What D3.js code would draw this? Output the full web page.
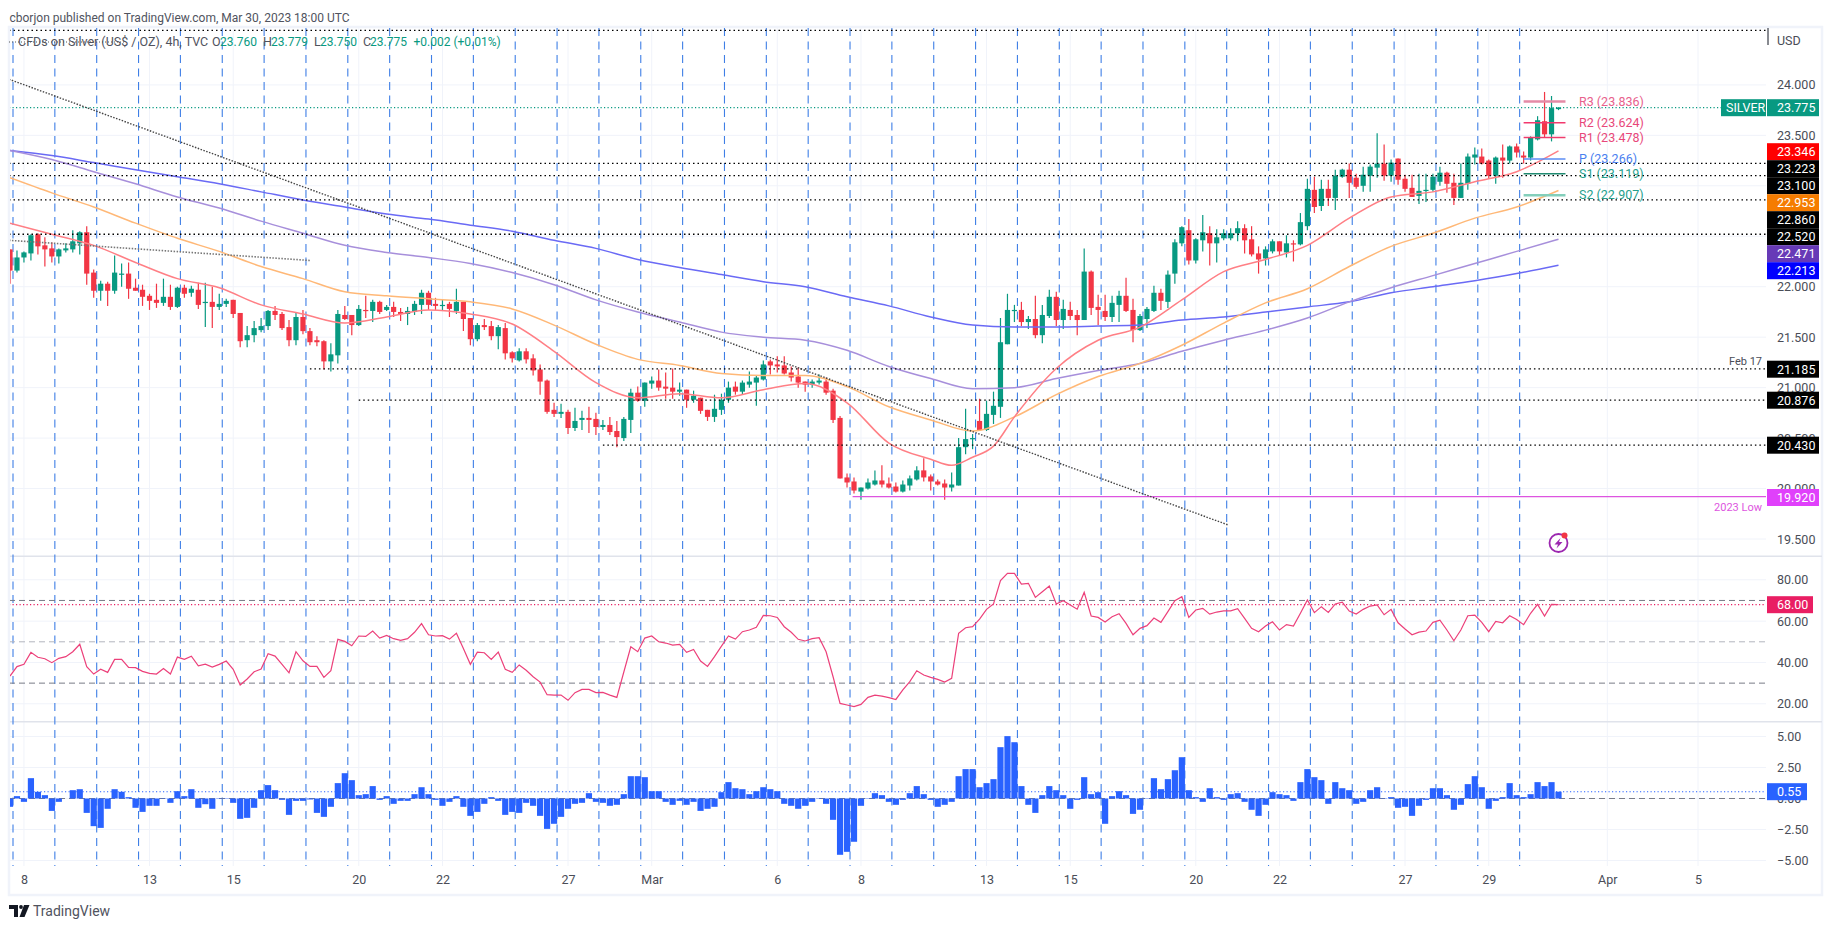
<!DOCTYPE html>
<html><head><meta charset="utf-8">
<script src="https://cdn.jsdelivr.net/npm/d3@7"></script>
<style>
html,body{margin:0;padding:0;background:#fff}
svg{display:block}
text{font-family:Roboto,"Liberation Sans",sans-serif;font-size:12.5px}
</style></head><body>
<svg id="c" width="1833" height="930"></svg>
<script>
const opens=[22.37,22.16,22.29,22.33,22.52,22.41,22.38,22.30,22.36,22.37,
22.43,22.54,22.14,21.96,22.03,21.96,22.12,22.13,21.99,21.97,
21.91,21.87,21.84,21.90,21.80,21.99,21.94,21.97,21.84,21.85,
21.80,21.83,21.87,21.74,21.47,21.52,21.57,21.61,21.76,21.73,
21.60,21.47,21.70,21.56,21.47,21.46,21.26,21.32,21.72,21.72,
21.62,21.77,21.76,21.85,21.77,21.80,
21.75,21.73,21.75,21.82,
21.94,21.83,21.81,21.83,21.76,21.85,21.69,21.48,21.62,21.61,
21.51,21.59,21.35,21.27,21.36,21.29,21.18,21.07,20.78,20.74,
20.76,20.60,20.68,20.70,20.69,20.61,20.63,20.57,20.50,20.68,
20.95,20.87,21.04,21.07,21.01,21.00,20.96,20.98,20.88,20.90,
20.78,20.71,20.78,20.88,21.01,20.96,21.03,21.05,21.08,21.26,
21.23,21.22,21.15,21.11,21.06,21.03,21.05,21.06,20.97,20.70,
20.11,20.07,19.97,20.00,20.04,20.08,20.05,20.02,19.97,20.03,
20.09,20.18,20.12,20.07,20.05,20.01,20.03,20.41,20.49,20.67,
20.58,20.73,20.81,21.43,21.76,21.77,21.65,21.68,21.52,21.71,
21.90,21.67,21.77,21.72,21.67,22.15,21.80,21.76,21.70,21.82,
21.91,21.77,21.57,21.68,21.76,21.94,21.85,22.13,22.43,22.56,
22.26,22.46,22.53,22.43,22.48,22.48,22.53,22.58,22.47,22.33,
22.28,22.35,22.45,22.34,22.43,22.42,22.60,22.96,22.80,22.97,
22.88,23.09,23.16,23.08,23.00,23.10,23.18,23.22,23.10,23.27,
23.07,22.98,22.90,22.95,22.96,23.04,23.13,23.03,22.88,23.02,
23.28,23.29,23.25,23.10,23.28,23.25,23.39,23.30,23.28,23.46,
23.64,23.51,23.76];
const highs=[22.37,22.36,22.35,22.52,22.53,22.49,22.44,22.38,22.43,22.56,
22.55,22.60,22.17,22.06,22.05,22.31,22.23,22.24,22.08,22.02,
21.93,22.03,22.08,22.02,22.00,22.02,22.01,22.04,22.04,22.00,
21.93,21.88,21.87,21.74,21.61,21.66,21.69,21.77,21.81,21.75,
21.67,21.75,21.77,21.59,21.51,21.47,21.44,21.77,21.81,21.72,
21.82,21.91,21.87,21.86,21.82,21.85,
21.79,21.80,21.86,21.97,
21.96,21.89,21.87,21.85,21.98,21.85,21.69,21.64,21.68,21.66,
21.62,21.64,21.36,21.39,21.39,21.33,21.23,21.08,20.85,20.84,
20.78,20.80,20.77,20.81,20.75,20.68,20.71,20.67,20.71,20.99,
21.01,21.05,21.11,21.18,21.15,21.19,21.05,20.98,20.97,20.90,
20.78,20.93,20.94,21.06,21.06,21.07,21.16,21.12,21.27,21.28,
21.31,21.31,21.21,21.20,21.06,21.08,21.13,21.10,20.99,20.72,
20.15,20.11,20.01,20.10,20.18,20.23,20.11,20.06,20.08,20.13,
20.22,20.30,20.14,20.09,20.09,20.16,20.50,20.79,20.54,20.89,
20.87,20.96,21.69,21.93,21.82,21.85,21.71,21.91,21.82,21.97,
21.95,21.87,21.85,21.77,22.38,22.16,21.92,21.92,21.91,21.96,
22.09,21.88,21.73,21.80,22.01,21.98,22.16,22.47,22.60,22.67,
22.48,22.71,22.60,22.57,22.57,22.58,22.65,22.62,22.60,22.40,
22.40,22.47,22.45,22.51,22.46,22.73,23.07,23.09,23.06,23.06,
23.16,23.17,23.22,23.12,23.19,23.21,23.52,23.41,23.26,23.27,
23.11,23.11,23.12,23.12,23.12,23.19,23.14,23.12,23.22,23.32,
23.38,23.37,23.26,23.29,23.41,23.40,23.42,23.34,23.49,23.69,
23.93,23.89,23.779];
const lows=[22.03,22.14,22.24,22.26,22.32,22.20,22.24,22.23,22.34,22.34,
22.32,22.02,21.89,21.86,21.81,21.93,22.00,21.88,21.96,21.81,
21.77,21.79,21.81,21.77,21.79,21.89,21.90,21.78,21.60,21.59,
21.77,21.80,21.69,21.40,21.40,21.45,21.55,21.57,21.67,21.57,
21.41,21.42,21.53,21.42,21.41,21.18,21.16,21.24,21.67,21.52,
21.61,21.69,21.65,21.73,21.76,21.70,
21.66,21.62,21.72,21.73,
21.77,21.77,21.76,21.70,21.73,21.56,21.42,21.46,21.57,21.47,
21.38,21.28,21.25,21.26,21.24,21.12,20.93,20.74,20.71,20.70,
20.54,20.57,20.58,20.55,20.53,20.58,20.53,20.41,20.47,20.55,
20.86,20.81,20.99,20.97,20.89,20.89,20.92,20.80,20.85,20.74,
20.67,20.66,20.73,20.85,20.93,20.93,21.00,20.82,21.07,21.13,
21.15,21.13,21.06,21.00,20.96,21.00,21.03,20.93,20.65,20.10,
20.01,19.95,19.89,19.99,20.03,20.01,20.00,19.96,19.96,19.98,
20.08,20.07,19.98,20.03,19.89,19.97,20.03,20.34,20.39,20.57,
20.57,20.64,20.70,21.43,21.65,21.61,21.58,21.49,21.44,21.69,
21.61,21.58,21.67,21.52,21.67,21.72,21.62,21.66,21.65,21.65,
21.75,21.45,21.56,21.59,21.75,21.77,21.79,22.03,22.40,22.22,
22.23,22.35,22.21,22.24,22.46,22.46,22.45,22.33,22.30,22.13,
22.21,22.33,22.31,22.29,22.25,22.41,22.56,22.73,22.75,22.80,
22.76,23.08,22.88,22.97,22.94,22.94,23.08,23.05,23.04,23.01,
22.94,22.89,22.82,22.84,22.94,23.00,22.93,22.81,22.88,22.96,
23.21,23.21,23.07,23.02,23.08,23.22,23.28,23.22,23.25,23.45,
23.48,23.44,23.750];
const closes=[22.16,22.29,22.34,22.51,22.40,22.37,22.30,22.37,22.38,22.45,
22.54,22.13,21.96,22.03,21.96,22.14,22.13,21.98,21.96,21.90,
21.86,21.84,21.90,21.80,21.99,21.93,21.98,21.82,21.85,21.80,
21.83,21.86,21.73,21.46,21.52,21.59,21.61,21.76,21.72,21.59,
21.47,21.70,21.56,21.45,21.45,21.26,21.33,21.73,21.68,21.62,
21.78,21.76,21.85,21.75,21.80,21.75,
21.73,21.76,21.83,21.94,
21.82,21.81,21.82,21.78,21.85,21.68,21.48,21.62,21.60,21.51,
21.60,21.34,21.29,21.36,21.28,21.17,21.06,20.76,20.74,20.76,
20.60,20.67,20.70,20.68,20.61,20.63,20.56,20.51,20.69,20.95,
20.87,21.05,21.07,21.00,20.99,20.96,20.98,20.88,20.92,20.77,
20.71,20.79,20.88,21.00,20.96,21.05,21.06,21.10,21.23,21.22,
21.21,21.14,21.10,21.05,21.03,21.06,21.07,20.95,20.68,20.10,
20.06,19.98,20.01,20.06,20.08,20.04,20.01,19.97,20.04,20.10,
20.18,20.11,20.07,20.04,20.01,20.04,20.41,20.49,20.50,20.58,
20.74,20.82,21.45,21.77,21.77,21.65,21.68,21.52,21.72,21.90,
21.67,21.78,21.71,21.67,22.15,21.79,21.77,21.70,21.84,21.91,
21.76,21.57,21.71,21.78,21.94,21.86,22.12,22.44,22.59,22.26,
22.47,22.54,22.43,22.49,22.53,22.53,22.58,22.46,22.32,22.27,
22.37,22.45,22.35,22.43,22.42,22.64,22.97,22.79,22.97,22.88,
23.10,23.16,23.03,22.99,23.11,23.19,23.22,23.10,23.23,23.06,
22.97,22.89,22.95,22.96,23.09,23.13,23.02,22.88,23.03,23.29,
23.31,23.22,23.10,23.28,23.25,23.39,23.33,23.28,23.48,23.65,
23.51,23.77,23.775];

const maBars=[0,6,12,18,24,30,36,42,48,54,60,66,72,78,84,90,96,102,108,114,120,126,132,138,144,150,156,162,168,174,180,186,192,198,204,210,216,222];
const ema200=[23.35,23.30,23.23,23.16,23.09,23.02,22.94,22.86,22.79,22.72,22.67,22.61,22.55,22.46,22.38,22.27,22.19,22.12,22.05,22.00,21.90,21.81,21.70,21.62,21.60,21.60,21.61,21.62,21.67,21.70,21.75,21.80,21.85,21.94,22.00,22.06,22.13,22.213];
const ema100=[23.35,23.26,23.14,23.02,22.89,22.78,22.65,22.53,22.41,22.34,22.29,22.23,22.14,22.02,21.87,21.75,21.65,21.55,21.50,21.47,21.37,21.21,21.09,20.99,21.00,21.09,21.17,21.24,21.36,21.47,21.57,21.69,21.85,21.99,22.11,22.23,22.35,22.471];
const ema50=[23.08,22.93,22.79,22.63,22.48,22.35,22.20,22.08,21.95,21.91,21.88,21.85,21.78,21.62,21.43,21.28,21.22,21.14,21.12,21.12,21.01,20.81,20.68,20.57,20.71,20.93,21.11,21.24,21.42,21.64,21.84,21.98,22.20,22.40,22.53,22.68,22.79,22.953];
const ema20Bars=[0,6,12,18,24,30,36,42,48,54,60,66,72,78,84,90,96,102,108,114,120,126,132,135,138,141,144,150,156,162,168,174,180,186,192,198,204,210,216,222];
const ema20=[22.63,22.52,22.41,22.24,22.08,21.99,21.82,21.73,21.64,21.70,21.77,21.73,21.63,21.36,21.05,20.90,20.94,20.90,20.98,21.04,20.85,20.45,20.29,20.23,20.31,20.42,20.71,21.19,21.47,21.60,21.87,22.15,22.27,22.41,22.68,22.89,22.94,23.04,23.14,23.346];

const rsi=[33.4,38.0,39.1,44.9,42.5,41.8,39.9,42.0,42.8,45.2,48.8,38.0,34.4,36.7,35.2,41.5,41.5,37.6,37.5,35.7,34.7,34.4,37.1,34.4,42.6,41.5,43.0,38.4,39.2,37.8,39.1,40.7,36.7,29.1,32.0,35.5,36.8,44.2,43.1,39.1,35.0,45.2,40.8,38.1,38.1,32.8,36.0,51.2,50.2,48.1,52.8,52.6,55.2,51.8,53.1,51.5,50.7,51.5,54.6,58.8,53.4,52.8,53.0,51.3,54.1,46.7,39.1,45.0,44.7,41.5,45.0,36.7,35.2,38.8,36.2,33.1,30.5,24.4,24.2,24.2,21.7,25.4,27.0,27.0,25.4,25.5,24.2,23.1,
35.4,47.6,45.2,51.8,52.8,50.0,49.4,48.4,48.8,44.9,46.3,40.7,38.1,42.8,47.9,52.8,51.3,54.9,55.7,57.0,62.8,62.6,61.8,57.3,54.6,51.2,50.4,51.5,52.0,45.2,33.1,20.2,19.4,18.6,19.7,23.1,24.2,23.7,23.0,22.1,26.7,30.7,36.0,33.9,32.8,31.8,30.5,32.3,54.1,56.8,57.3,61.0,65.7,68.3,79.6,83.1,83.1,77.9,78.3,71.5,74.2,77.0,68.3,69.9,67.8,65.8,73.9,62.5,61.8,59.6,62.1,63.6,58.9,53.4,56.5,57.8,61.5,59.4,64.6,69.9,71.8,61.8,65.4,66.2,63.4,64.4,65.0,65.0,66.0,61.3,56.5,54.9,57.6,59.7,55.7,58.3,57.6,63.8,70.2,64.1,67.0,64.2,68.3,69.2,64.9,63.4,65.7,67.3,67.9,63.1,65.7,59.2,56.2,53.4,54.7,55.2,59.4,60.5,55.7,50.5,55.7,62.6,62.9,59.4,54.9,59.9,59.2,62.6,60.8,58.3,63.8,68.1,62.5,68.1,68.0];
const hist=[-0.67,0.19,-0.27,1.64,0.54,0.27,-1.0,-0.27,0,0.67,0.75,-1.16,-2.23,-2.37,-0.83,0.75,0.54,0.11,-0.75,-1.08,-0.59,-0.59,0.03,-0.35,0.59,0.19,0.75,-0.75,-0.46,-0.83,-0.03,-0.03,-0.35,-1.64,-1.56,-0.75,0.67,1.08,0.67,-0.11,-1.32,-0.19,-0.19,-0.08,-1.16,-1.48,-0.67,1.24,2.04,1.48,0.27,0.35,1.0,-0.11,0.19,-0.43,-0.19,-0.19,0.35,0.91,0.35,-0.11,-0.59,-0.27,0.19,-0.67,-1.4,-1.08,-0.43,0.11,-0.19,-1.32,-1.08,-1.16,-0.35,-0.59,-1.4,-2.45,-2.04,-1.48,-0.83,-0.43,-0.35,0.43,-0.27,-0.35,-0.59,-0.51,
0.35,1.8,1.8,1.72,0.59,0.59,-0.27,-0.51,-0.19,-0.51,-0.27,-1.0,-0.83,-0.67,0.51,1.32,0.83,0.75,0.35,0.59,0.91,0.75,0.59,-0.43,-0.59,-0.83,-0.59,-0.27,-0.03,-0.43,-1.72,-4.54,-4.3,-3.49,-0.59,-0.03,0.43,0.27,-0.27,-0.51,-0.11,0.43,1.0,0.35,-0.11,-0.67,-0.51,-0.27,1.8,2.37,2.37,0.91,1.24,1.56,4.14,5.03,4.54,1.0,-0.51,-1.16,0.27,1.0,0.67,0.27,-0.83,-0.11,1.72,0.35,0.51,-2.04,0.19,0.59,0.27,-1.24,-0.91,-0.03,1.64,0.75,1.56,2.28,3.33,0.67,0.11,-0.27,0.83,0.11,-0.11,0.35,0.43,-0.27,-0.91,-1.4,-0.51,0.51,0.35,0.27,-0.19,1.32,2.37,1.72,1.48,-0.43,1.32,0.83,0.67,-0.43,-0.27,0.67,0.91,-0.03,0.11,-0.75,-0.67,-1.4,-0.59,-0.11,0.83,0.83,0.27,-0.91,-0.51,1.16,1.8,0.91,-0.83,-0.19,0.11,1.24,0.27,0.11,0.35,1.32,1.0,1.32,0.55];

const priceTicks=[24,23.5,23,22.5,22,21.5,21,20.5,20,19.5];
const priceTickLabels=[24,23.5,22,21.5,21,20.5,20,19.5];
const rsiTicks=[80,60,40,20];
const histTicks=[5,2.5,0,-2.5,-5];
const timeBars=[2,20,32,50,62,80,92,110,122,140,152,170,182,200,212,229,242];
const timeLabels=["8","13","15","20","22","27","Mar","6","8","13","15","20","22","27","29","Apr","5"];

// black dotted levels: price, first bar
const levelPrices=[24.54,23.223,23.10,22.86,22.52,21.185,20.876,20.43];
const levelStarts=[-1,-1,-1,-1,-1,43,50,85];
const pivotNames=["R3","R2","R1","P","S1","S2"];
const pivotValues=[23.836,23.624,23.478,23.266,23.119,22.907];
const pivotColors=["#e58aa6","#f2386e","#ee3c6c","#5b8cf5","#1f8a70","#84cfbb"];
const pivotWidths=[2.5,1.5,1.5,1.5,1.5,2.5];
const pivotText=["#e8618c","#e8477a","#e8477a","#4b7ff0","#26a08c","#26a08c"];
const trendA=[[-0.15,24.056],[174.6,19.64]];
const trendB=[[-0.15,22.46],[43,22.26]];

const boxLabels=["23.346","23.223","23.100","22.953","22.860","22.520","22.471","22.213"];
const boxColors=["#ff0000","#000000","#000000","#f57c00","#000000","#000000","#673ab7","#0000ff"];

const L=9,R=1766,T=28,B=866;
const svg=d3.select("#c");
const x=d3.scaleLinear().domain([0,222]).range([10,1558.5]);
const y=d3.scaleLinear().domain([24,19.5]).range([84.9,539]);
const yR=d3.scaleLinear().domain([80,20]).range([579.8,703.8]);
const yH=d3.scaleLinear().domain([5,-5]).range([736.5,860.5]);
const bars=d3.range(closes.length);

svg.append("defs").append("clipPath").attr("id","pane").append("rect").attr("x",L+1).attr("y",T).attr("width",R-L-1).attr("height",B-T);

// frame and panes
svg.append("rect").attr("x",L).attr("y",27).attr("width",1822-L).attr("height",895-27).attr("fill","#fff").attr("stroke","#f0f3fa").attr("stroke-width",2.5);
const root=svg.append("g").attr("clip-path","url(#pane)");
const grid=root.append("g").attr("stroke","#f0f3fa").attr("stroke-width",1);
grid.selectAll(".v").data(timeBars).join("line").attr("class","v").attr("x1",d=>x(d)).attr("x2",d=>x(d)).attr("y1",T).attr("y2",B);
grid.selectAll(".p").data(priceTicks).join("line").attr("class","p").attr("x1",L).attr("x2",R).attr("y1",d=>y(d)).attr("y2",d=>y(d));
grid.selectAll(".r").data(rsiTicks).join("line").attr("class","r").attr("x1",L).attr("x2",R).attr("y1",d=>yR(d)).attr("y2",d=>yR(d));
grid.selectAll(".h").data(histTicks).join("line").attr("class","h").attr("x1",L).attr("x2",R).attr("y1",d=>yH(d)).attr("y2",d=>yH(d));
[556.3,721.7].forEach(v=>root.append("line").attr("x1",L).attr("x2",R).attr("y1",v).attr("y2",v).attr("stroke","#e0e3eb").attr("stroke-width",1.5));
svg.append("g").selectAll("line").data([556.3,721.7]).join("line").attr("x1",R).attr("x2",1822).attr("y1",d=>d).attr("y2",d=>d).attr("stroke","#e0e3eb").attr("stroke-width",1.5);

// session separators
root.append("g").selectAll("line").data(d3.range(0,37)).join("line")
 .attr("x1",d=>x(0.43+6*d)).attr("x2",d=>x(0.43+6*d)).attr("y1",T).attr("y2",B)
 .attr("stroke","#3f7fe6").attr("stroke-width",1.1).attr("stroke-dasharray","8 5.5");

// candles
const col=i=>closes[i]>=opens[i]?"#089981":"#f23645";
const cg=root.append("g");
cg.selectAll(".w").data(bars).join("line").attr("class","w").attr("x1",i=>x(i)).attr("x2",i=>x(i)).attr("y1",i=>y(highs[i])).attr("y2",i=>y(lows[i])).attr("stroke",col).attr("stroke-width",1.2);
cg.selectAll(".b").data(bars).join("rect").attr("class","b").attr("x",i=>x(i)-2.6).attr("width",5.2)
 .attr("y",i=>y(Math.max(opens[i],closes[i]))).attr("height",i=>Math.max(1.2,Math.abs(y(opens[i])-y(closes[i])))).attr("fill",col);

// moving averages
const mkLine=(xs,ys)=>d3.line().x((d,i)=>x(xs[i])).y(d=>y(d)).curve(d3.curveMonotoneX)(ys);
root.append("path").attr("d",mkLine(maBars,ema200)).attr("fill","none").attr("stroke","#6a6af5").attr("stroke-width",1.5);
root.append("path").attr("d",mkLine(maBars,ema100)).attr("fill","none").attr("stroke","#a78fdb").attr("stroke-width",1.5);
root.append("path").attr("d",mkLine(maBars,ema50)).attr("fill","none").attr("stroke","#ffb877").attr("stroke-width",1.5);
root.append("path").attr("d",mkLine(ema20Bars,ema20)).attr("fill","none").attr("stroke","#ff7f85").attr("stroke-width",1.5);

// levels
root.append("g").selectAll("line").data(levelPrices).join("line")
 .attr("x1",(d,i)=>levelStarts[i]<0?L:x(levelStarts[i])).attr("x2",R).attr("y1",d=>y(d)).attr("y2",d=>y(d))
 .attr("stroke","#000").attr("stroke-width",1.3).attr("stroke-dasharray","1.5 3");
root.append("line").attr("x1",x(120.8)).attr("x2",R).attr("y1",y(19.92)).attr("y2",y(19.92)).attr("stroke","#dd55e0").attr("stroke-width",1.3);
root.append("line").attr("x1",L).attr("x2",R).attr("y1",y(23.775)).attr("y2",y(23.775)).attr("stroke","#089981").attr("stroke-width",1.1).attr("stroke-dasharray","1.2 2.3");

// trend lines
[[trendA,"#444",1.4],[trendB,"#777",1.6]].forEach(([t,c,w])=>root.append("line").attr("x1",x(t[0][0])).attr("y1",y(t[0][1])).attr("x2",x(t[1][0])).attr("y2",y(t[1][1])).attr("stroke",c).attr("stroke-width",w).attr("stroke-dasharray","1.5 1.5"));

// pivots
const pg=svg.append("g");
pg.selectAll("line").data(pivotValues).join("line").attr("x1",x(217)).attr("x2",x(223)).attr("y1",d=>y(d)).attr("y2",d=>y(d)).attr("stroke",(d,i)=>pivotColors[i]).attr("stroke-width",(d,i)=>pivotWidths[i]);
pg.selectAll("text").data(pivotValues).join("text").attr("x",1579).attr("y",d=>y(d)+4.3).attr("fill",(d,i)=>pivotText[i]).text((d,i)=>`${pivotNames[i]} (${d3.format(".3f")(d)})`);

// RSI
root.append("g").selectAll("line").data([70,50,30]).join("line").attr("x1",L).attr("x2",R).attr("y1",d=>yR(d)).attr("y2",d=>yR(d)).attr("stroke",d=>d==50?"#b2b5be":"#787b86").attr("stroke-width",1).attr("stroke-dasharray","6 4");
root.append("line").attr("x1",L).attr("x2",R).attr("y1",yR(68)).attr("y2",yR(68)).attr("stroke","#e91e63").attr("stroke-width",1.1).attr("stroke-dasharray","1.2 2.3");
root.append("path").attr("d",d3.line().x((d,i)=>x(i)).y(d=>yR(d))(rsi)).attr("fill","none").attr("stroke","#ec407a").attr("stroke-width",1.2);

// Histogram
root.append("line").attr("x1",L).attr("x2",R).attr("y1",yH(0)).attr("y2",yH(0)).attr("stroke","#787b86").attr("stroke-width",1).attr("stroke-dasharray","6 4");
root.append("g").selectAll("rect").data(hist).join("rect").attr("x",(d,i)=>x(i)-3.1).attr("width",6.2)
 .attr("y",d=>yH(Math.max(d,0))).attr("height",d=>Math.abs(yH(d)-yH(0))).attr("fill","#2962ff");
root.append("line").attr("x1",L).attr("x2",R).attr("y1",yH(0.55)).attr("y2",yH(0.55)).attr("stroke","#2962ff").attr("stroke-width",1.1).attr("stroke-dasharray","1.2 2.3");

// Axes
const txt="#4a4d57";
function style(g){g.select(".domain").remove();g.selectAll("text").attr("fill",txt).style("font-size","12.5px");}
svg.append("g").attr("transform","translate(1777,0)").call(d3.axisRight(y).tickValues(priceTickLabels).tickSize(0).tickPadding(0).tickFormat(d3.format(".3f"))).call(style);
svg.append("g").attr("transform","translate(1777,0)").call(d3.axisRight(yR).tickValues(rsiTicks).tickSize(0).tickPadding(0).tickFormat(d3.format(".2f"))).call(style);
svg.append("g").attr("transform","translate(1777,0)").call(d3.axisRight(yH).tickValues(histTicks).tickSize(0).tickPadding(0).tickFormat(d3.format(".2f"))).call(style);
svg.append("g").attr("transform",`translate(0,${B})`).call(d3.axisBottom(x).tickValues(timeBars).tickSize(0).tickPadding(9).tickFormat((d,i)=>timeLabels[i])).call(style);

// Boxed labels on the scale
function box(x0,x1,cy,fill,label,tx){
 svg.append("rect").attr("x",x0).attr("y",cy-8.5).attr("width",x1-x0).attr("height",17).attr("fill",fill);
 svg.append("text").attr("x",tx||x0+10).attr("y",cy+4.4).attr("fill","#fff").text(label);
}
box(1767,1819,107.7,"#089981","23.775");
box(1721,1766,107.7,"#089981","SILVER",1726);
boxLabels.forEach((t,i)=>box(1767,1819,151.7+17*i,boxColors[i],t));
box(1767,1819,369.2,"#000","21.185");
box(1767,1819,400.2,"#000","20.876");
box(1767,1819,445.2,"#000","20.430");
box(1767,1819,497.5,"#e040fb","19.920");
box(1767,1813,604.7,"#e91e63","68.00");
box(1767,1807,791.7,"#2962ff","0.55");
svg.append("text").attr("x",1762).attr("y",365).attr("text-anchor","end").attr("fill",txt).style("font-size","11px").text("Feb 17");
svg.append("text").attr("x",1762).attr("y",511).attr("text-anchor","end").attr("fill","#dd55e0").style("font-size","11px").text("2023 Low");

// USD
svg.append("line").attr("x1",1768).attr("x2",1768).attr("y1",28).attr("y2",45).attr("stroke","#131722");
svg.append("text").attr("x",1777).attr("y",45).attr("fill",txt).text("USD");

// Header
svg.append("text").attr("x",9.5).attr("y",22).attr("fill","#50535e").style("font-size","12px").text("cborjon published on TradingView.com, Mar 30, 2023 18:00 UTC");
const lg=svg.append("g");
lg.append("text").attr("x",18).attr("y",46).attr("fill","#50535e").text("CFDs on Silver (US$ / OZ), 4h, TVC");
[["O",212,"23.760",220],["H",263,"23.779",271],["L",314,"23.750",320],["C",363,"23.775",370]].forEach(([a,ax,b,bx])=>{
 lg.append("text").attr("x",ax).attr("y",46).attr("fill","#50535e").text(a);
 lg.append("text").attr("x",bx).attr("y",46).attr("fill","#089981").style("font-size","12px").text(b);
});
lg.append("text").attr("x",413.5).attr("y",46).attr("fill","#089981").style("font-size","12px").text("+0.002 (+0.01%)");
lg.append("line").attr("x1",L).attr("x2",125).attr("y1",42).attr("y2",42).attr("stroke","#555").attr("stroke-dasharray","1 2");

// bolt icon
const ic=svg.append("g").attr("transform",`translate(${x(222)},543)`);
ic.append("circle").attr("r",9).attr("fill","#fff").attr("stroke","#9c27b0").attr("stroke-width",1.8);
ic.append("path").attr("d","M2,-5 L-4,1.5 L-0.5,1.5 L-2,5.5 L4,-1 L0.5,-1 Z").attr("fill","#9c27b0");
ic.append("circle").attr("cx",6).attr("cy",-7.5).attr("r",3).attr("fill","#f23645");

// TradingView logo
const lo=svg.append("g").attr("fill","#131722");
lo.append("path").attr("d","M9,905 h9 v12 h-4 v-8 h-5 Z");
lo.append("circle").attr("cx",21).attr("cy",907).attr("r",1.9);
lo.append("path").attr("d","M24,905 h5.5 l-5,12 h-5 Z");
svg.append("text").attr("x",33).attr("y",916).attr("fill","#50535e").style("font-size","14px").text("TradingView");
</script>
</body></html>
